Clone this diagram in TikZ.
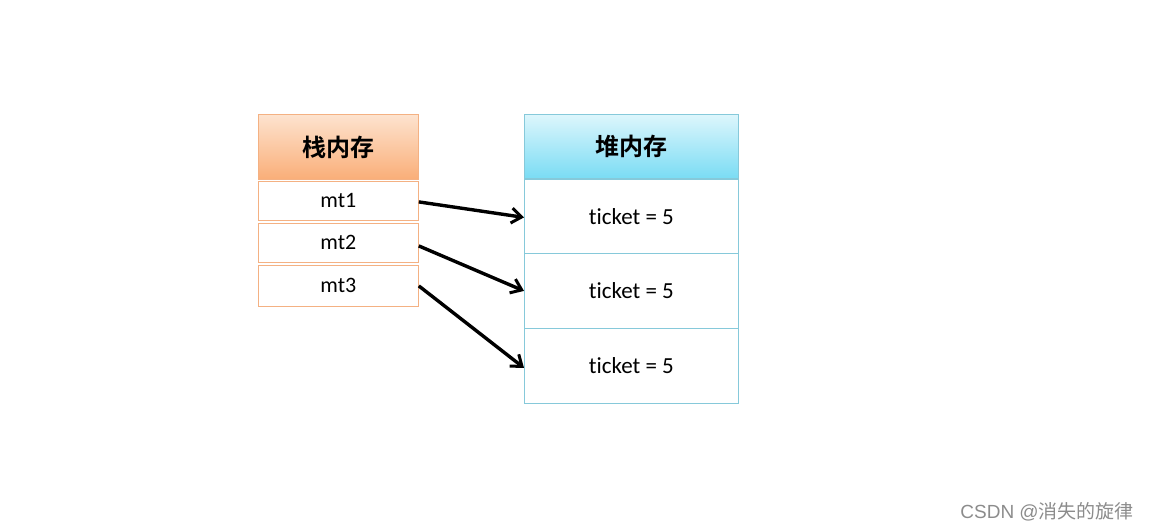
\documentclass[tikz,border=0pt]{standalone}
\usepackage{fontspec}
\setmainfont{Carlito}[Ligatures=NoCommon]
\newfontfamily\cjk{Noto Sans CJK SC}
\newfontfamily\cjkb{Noto Sans CJK SC Bold}
\usetikzlibrary{arrows.meta}
\definecolor{obord}{HTML}{F4B183}
\definecolor{otop}{HTML}{FDE3CF}
\definecolor{obot}{HTML}{FAAE78}
\definecolor{bbord}{HTML}{86C9DA}
\definecolor{btop}{HTML}{DDF6FC}
\definecolor{bbot}{HTML}{7ADCF4}
\tikzset{
  box/.style={draw, line width=0.8pt, inner sep=0pt, anchor=north west},
  ohead/.style={box, draw=obord, top color=otop, bottom color=obot, font=\cjkb\fontsize{24}{28}\selectfont},
  bhead/.style={box, draw=bbord, top color=btop, bottom color=bbot, font=\cjkb\fontsize{24}{28}\selectfont},
  ocell/.style={box, draw=obord, fill=white, font=\fontsize{22}{26}\selectfont},
  bcell/.style={box, draw=bbord, fill=white, font=\fontsize{23}{27}\selectfont},
  arr/.style={-{Straight Barb[length=10pt,width=15pt,line width=3pt]}, line width=3.4pt, black},
}
\begin{document}
\begin{tikzpicture}[x=1pt,y=-1pt]
\useasboundingbox (0,0) rectangle (1149,531);
\node[ohead, minimum width=160pt, minimum height=65pt] (sh) at (258,114) {栈内存};
\node[ocell, minimum width=160pt, minimum height=39pt] (m1) at (258,181) {mt1};
\node[ocell, minimum width=160pt, minimum height=39pt] (m2) at (258,223) {mt2};
\node[ocell, minimum width=160pt, minimum height=41pt] (m3) at (258,265) {mt3};
\node[bhead, minimum width=214pt, minimum height=64pt] (hh) at (524,114) {堆内存};
\node[bcell, minimum width=214pt, minimum height=74pt] (h1) at (524,179) {ticket = 5};
\node[bcell, minimum width=214pt, minimum height=75pt] (h2) at (524,253) {ticket = 5};
\node[bcell, minimum width=214pt, minimum height=75pt] (h3) at (524,328) {ticket = 5};
\coordinate (a1) at ([yshift=-1pt]m1.east);
\coordinate (a2) at ([yshift=-3pt]m2.east);
\coordinate (a3) at ([yshift=0pt]m3.east);
\draw[arr] (a1) -- ([yshift=-1pt]h1.west);
\draw[arr] (a2) -- ([yshift=0pt]h2.west);
\draw[arr] (a3) -- ([yshift=-2pt]h3.west);
\node[anchor=east, text=black!45, inner sep=0pt, font=\fontsize{19}{22}\selectfont] (wm) at (1134,512) {\fontspec{Liberation Sans}CSDN @\cjk 消失的旋律};
\end{tikzpicture}
\end{document}
